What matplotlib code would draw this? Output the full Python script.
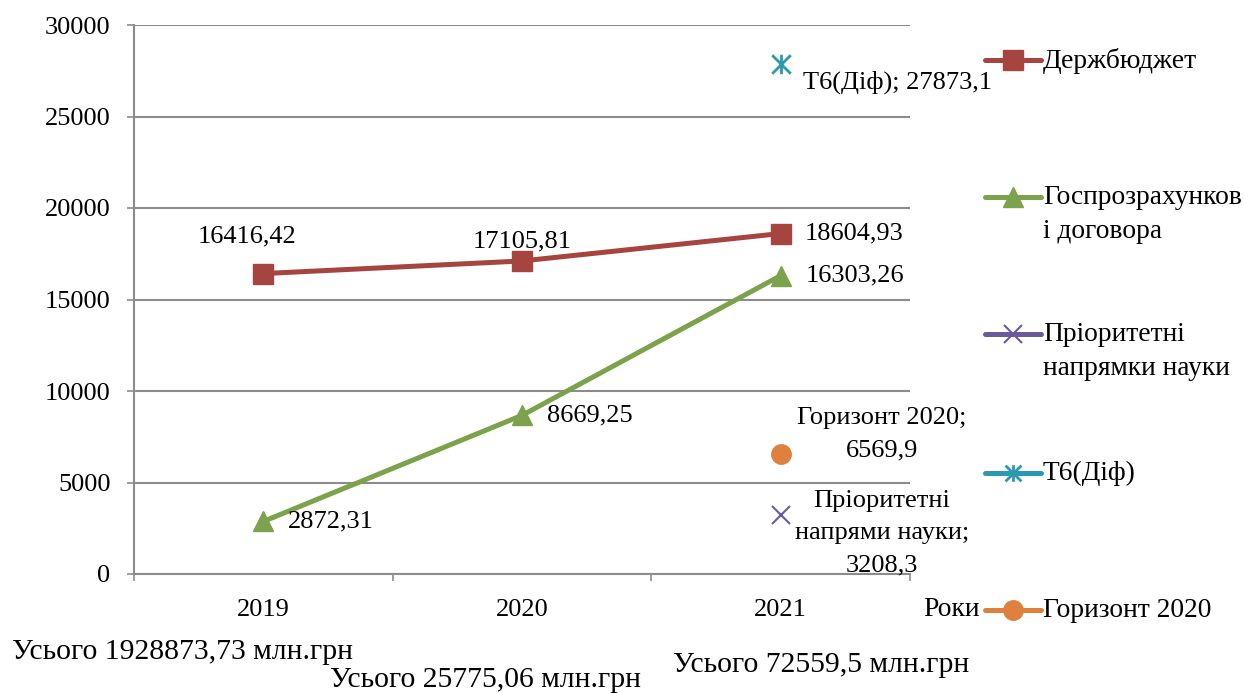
import numpy as np
import matplotlib
matplotlib.use('Agg')
import matplotlib.pyplot as plt
from matplotlib.lines import Line2D
from matplotlib.path import Path

# Data
years = ['2019', '2020', '2021']
derzhbudzhet = [16416.42, 17105.81, 18604.93]
hosprozrakh = [2872.31, 8669.25, 16303.26]
priorytetni = [3208.3]
t6_dif = [27873.1]
horyzont = [6569.9]
single_year = [2]  # index of 2021
totals = ['Усього 1928873,73 млн.грн', 'Усього 25775,06 млн.грн', 'Усього 72559,5 млн.грн']
legend_labels = ['Держбюджет', 'Госпрозрахунков\nі договора', 'Пріоритетні\nнапрямки науки',
                 'Т6(Діф)', 'Горизонт 2020']

plt.rcParams['font.family'] = ['Liberation Serif', 'DejaVu Serif']
plt.rcParams['font.size'] = 19

red = '#A6443F'
green = '#7CA24B'
purple = '#6B5A9B'
teal = '#2B99B0'
orange = '#DE813F'
grid = '#8C8C8C'

# asterisk marker: X plus vertical bar
ast = Path([(-1, -1), (1, 1), (-1, 1), (1, -1), (0, -1.05), (0, 1.05)],
           [Path.MOVETO, Path.LINETO, Path.MOVETO, Path.LINETO, Path.MOVETO, Path.LINETO])

fig = plt.figure(figsize=(12.44, 6.93), dpi=100)
ax = fig.add_axes([134 / 1244, 1 - 574 / 693, (910 - 134) / 1244, (574 - 25) / 693])

x = np.arange(len(years))
ax.plot(x, derzhbudzhet, color=red, lw=3.6, marker='s', ms=14, zorder=3)
ax.plot(x, hosprozrakh, color=green, lw=3.6, marker='^', ms=15, zorder=3)
ax.plot(single_year, priorytetni, ls='none', color=purple, marker='x', ms=13, mew=1.5, zorder=3)
ax.plot(single_year, t6_dif, ls='none', color=teal, marker=ast, ms=14, mew=2, zorder=3)
ax.plot(single_year, horyzont, ls='none', color=orange, marker='o', ms=14, zorder=3)

# data labels
def fmt(v):
    return f'{v:.2f}'.replace('.', ',')

ax.annotate(fmt(derzhbudzhet[0]), (0, derzhbudzhet[0]), xytext=(-12, 27), textcoords='offset points',
            ha='center', va='center')
ax.annotate(fmt(derzhbudzhet[1]), (1, derzhbudzhet[1]), xytext=(0, 14), textcoords='offset points',
            ha='center', va='center')
ax.annotate(fmt(derzhbudzhet[2]), (2, derzhbudzhet[2]), xytext=(17, 0), textcoords='offset points',
            ha='left', va='center')
for i, v in enumerate(hosprozrakh):
    ax.annotate(fmt(v), (i, v), xytext=(18, 0), textcoords='offset points', ha='left', va='center')
ax.annotate('Т6(Діф); ' + f'{t6_dif[0]}'.replace('.', ','), (2, t6_dif[0]), xytext=(16, -13),
            textcoords='offset points', ha='left', va='center')
ax.annotate('Горизонт 2020;\n' + f'{horyzont[0]}'.replace('.', ','), (2, horyzont[0]), xytext=(73, 14),
            textcoords='offset points', ha='center', va='center', multialignment='center', linespacing=1.6)
ax.annotate('Пріоритетні\nнапрями науки;\n' + f'{priorytetni[0]}'.replace('.', ','), (2, priorytetni[0]),
            xytext=(73, -13), textcoords='offset points', ha='center', va='center',
            multialignment='center', linespacing=1.6)

# axes styling
ax.set_xlim(-0.5, 2.5)
ax.set_ylim(0, 30000)
ax.set_yticks(np.arange(0, 30001, 5000))
ax.set_xticks([-0.5, 0.5, 1.5, 2.5])
ax.set_xticklabels([])
ax.set_xticks(x, minor=True)
ax.set_xticklabels(years, minor=True)
ax.tick_params(axis='x', which='major', length=5, width=1.2, color=grid, direction='out')
ax.tick_params(axis='x', which='minor', length=0, pad=18)
ax.tick_params(axis='y', length=5, width=1.2, color=grid, pad=12)
ax.yaxis.grid(True, color=grid, lw=1.5)
ax.set_axisbelow(True)
for s in ['top', 'right']:
    ax.spines[s].set_visible(False)
for s in ['left', 'bottom']:
    ax.spines[s].set_color(grid)
    ax.spines[s].set_linewidth(1.5)

# legend drawn by hand so handles line up with first text line
handles = [
    dict(color=red, marker='s', ms=14),
    dict(color=green, marker='^', ms=15),
    dict(color=purple, marker='x', ms=13, mew=1.5),
    dict(color=teal, marker=ast, ms=12, mew=2),
    dict(color=orange, marker='o', ms=14),
]
leg_y = [60, 197, 334, 473, 610]
for h, lab, yy in zip(handles, legend_labels, leg_y):
    fy = 1 - yy / 693
    fig.add_artist(Line2D([985 / 1244, 1013 / 1244, 1041 / 1244], [fy, fy, fy], lw=3.6,
                          transform=fig.transFigure, solid_capstyle='round', markevery=[1], **h))
    fig.text(1043 / 1244, 1 - (yy - 12) / 693, lab, ha='left', va='top', linespacing=1.45, fontsize=19.8)

fig.text(980 / 1244, 1 - 610 / 693, 'Роки', ha='right', va='center', fontsize=19.8)

fig.text(12 / 1244, 1 - 652 / 693, totals[0], ha='left', va='center', fontsize=21.3)
fig.text(330 / 1244, 1 - 680 / 693, totals[1], ha='left', va='center', fontsize=21.3)
fig.text(673 / 1244, 1 - 665 / 693, totals[2], ha='left', va='center', fontsize=21.3)

fig.savefig('out.png', dpi=100)
